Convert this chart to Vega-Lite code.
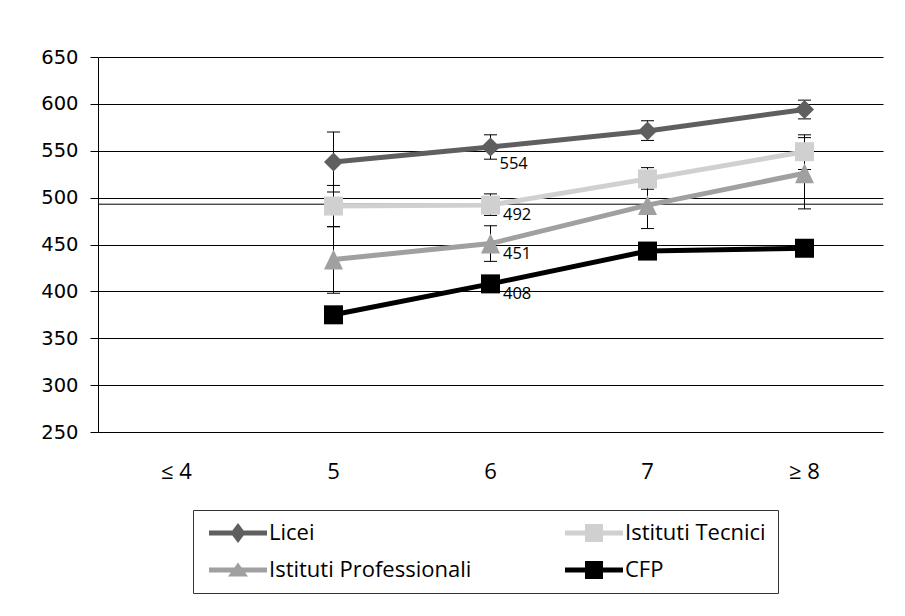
{
  "$schema": "https://vega.github.io/schema/vega-lite/v6.json",
  "width": 785,
  "height": 375,
  "autosize": {"type": "none"},
  "padding": {"left": 98, "top": 57, "right": 22, "bottom": 184},
  "background": "white",
  "config": {"view": {"stroke": null}, "font": "Open Sans"},
  "datasets": {
    "scores": [
      {"cat": "5", "series": "Licei", "value": 538, "lo": 506, "hi": 570},
      {"cat": "6", "series": "Licei", "value": 554, "lo": 541, "hi": 567},
      {"cat": "7", "series": "Licei", "value": 571, "lo": 561, "hi": 582},
      {"cat": "≥ 8", "series": "Licei", "value": 594, "lo": 584, "hi": 604},
      {"cat": "5", "series": "Istituti Tecnici", "value": 491, "lo": 469, "hi": 513},
      {"cat": "6", "series": "Istituti Tecnici", "value": 492, "lo": 481, "hi": 504},
      {"cat": "7", "series": "Istituti Tecnici", "value": 520, "lo": 509, "hi": 532},
      {"cat": "≥ 8", "series": "Istituti Tecnici", "value": 549, "lo": 530, "hi": 567},
      {"cat": "5", "series": "Istituti Professionali", "value": 434, "lo": 398, "hi": 469},
      {"cat": "6", "series": "Istituti Professionali", "value": 451, "lo": 432, "hi": 470},
      {"cat": "7", "series": "Istituti Professionali", "value": 492, "lo": 467, "hi": 517},
      {"cat": "≥ 8", "series": "Istituti Professionali", "value": 526, "lo": 488, "hi": 564},
      {"cat": "5", "series": "CFP", "value": 375, "lo": null, "hi": null},
      {"cat": "6", "series": "CFP", "value": 408, "lo": null, "hi": null},
      {"cat": "7", "series": "CFP", "value": 443, "lo": null, "hi": null},
      {"cat": "≥ 8", "series": "CFP", "value": 446, "lo": null, "hi": null}
    ],
    "ref": [{"value": 493}]
  },
  "encoding": {
    "x": {
      "field": "cat",
      "type": "ordinal",
      "scale": {"domain": ["≤ 4", "5", "6", "7", "≥ 8"], "paddingInner": 0, "paddingOuter": 0},
      "axis": {
        "title": null,
        "domain": false,
        "ticks": false,
        "grid": false,
        "labelAngle": 0,
        "labelPadding": 29,
        "labelFont": "Open Sans",
        "labelFontSize": 22,
        "labelColor": "black"
      }
    },
    "y": {
      "field": "value",
      "type": "quantitative",
      "title": null,
      "scale": {"domain": [250, 650], "nice": false, "zero": false},
      "axis": {
        "title": null,
        "values": [250, 300, 350, 400, 450, 500, 550, 600, 650],
        "grid": true,
        "gridColor": "black",
        "gridWidth": 1,
        "gridOpacity": 1,
        "domainColor": "black",
        "domainWidth": 1,
        "tickColor": "black",
        "tickSize": 8,
        "tickWidth": 1,
        "labelPadding": 12,
        "labelFont": "DejaVu Sans",
        "labelFontSize": 19.5,
        "labelColor": "black"
      }
    }
  },
  "layer": [
    {
      "data": {"name": "ref"},
      "mark": {"type": "rule", "color": "black", "strokeWidth": 1},
      "encoding": {
        "x": {"value": 0},
        "x2": {"value": 785}
      }
    },
    {
      "data": {"name": "scores"},
      "transform": [{"filter": "datum.lo != null"}],
      "mark": {"type": "rule", "color": "black", "strokeWidth": 1},
      "encoding": {
        "y": {"field": "lo", "type": "quantitative", "title": null},
        "y2": {"field": "hi"}
      }
    },
    {
      "data": {"name": "scores"},
      "transform": [{"filter": "datum.lo != null"}],
      "mark": {"type": "tick", "color": "black", "thickness": 1, "size": 13, "opacity": 1},
      "encoding": {
        "y": {"field": "lo", "type": "quantitative", "title": null}
      }
    },
    {
      "data": {"name": "scores"},
      "transform": [{"filter": "datum.hi != null"}],
      "mark": {"type": "tick", "color": "black", "thickness": 1, "size": 13, "opacity": 1},
      "encoding": {
        "y": {"field": "hi", "type": "quantitative", "title": null}
      }
    },
    {
      "data": {"name": "scores"},
      "mark": {"type": "line", "strokeWidth": 5},
      "encoding": {
        "color": {
          "field": "series",
          "type": "nominal",
          "scale": {
            "domain": ["Licei", "Istituti Tecnici", "Istituti Professionali", "CFP"],
            "range": ["#5f5f5f", "#d0d0d0", "#a0a0a0", "#000000"]
          },
          "legend": {
            "title": null,
            "orient": "none",
            "direction": "horizontal",
            "legendX": 95,
            "legendY": 453,
            "columns": 2,
            "padding": 12,
            "rowPadding": 15,
            "columnPadding": 89,
            "strokeColor": "#333333",
            "fillColor": "white",
            "labelFont": "Open Sans",
            "labelFontSize": 22,
            "labelColor": "black",
            "labelOffset": 42,
            "labelLimit": 500,
            "symbolSize": 400,
            "symbolStrokeWidth": 0,
            "encode": {
              "symbols": {
                "update": {
                  "shape": {"signal": "datum.value === 'Licei' ? 'M-0.7,-0.25H5.1V0.25H-0.7Z M2.2,-1L2.95,0L2.2,1L1.45,0Z' : datum.value === 'Istituti Tecnici' ? 'M-0.7,-0.25H5.1V0.25H-0.7Z M1.3,-0.9H3.1V0.9H1.3Z' : datum.value === 'Istituti Professionali' ? 'M-0.7,-0.25H5.1V0.25H-0.7Z M2.2,-0.75L3.2,0.65L1.2,0.65Z' : 'M-0.7,-0.25H5.1V0.25H-0.7Z M1.3,-0.9H3.1V0.9H1.3Z'"},
                  "fill": {"scale": "color", "field": "value"},
                  "stroke": {"value": "transparent"},
                  "strokeWidth": {"value": 0},
                  "size": {"value": 400},
                  "opacity": {"value": 1}
                }
              }
            }
          }
        }
      }
    },
    {
      "data": {"name": "scores"},
      "transform": [{"filter": "datum.series === 'Licei'"}],
      "mark": {"type": "point", "shape": "diamond", "filled": true, "size": 361, "opacity": 1, "strokeWidth": 0, "color": "#5f5f5f"}
    },
    {
      "data": {"name": "scores"},
      "transform": [{"filter": "datum.series === 'Istituti Tecnici'"}],
      "mark": {"type": "point", "shape": "square", "filled": true, "size": 361, "opacity": 1, "strokeWidth": 0, "color": "#d0d0d0"}
    },
    {
      "data": {"name": "scores"},
      "transform": [{"filter": "datum.series === 'Istituti Professionali'"}],
      "mark": {"type": "point", "shape": "M0,-1.05L1,1.05L-1,1.05Z", "filled": true, "size": 361, "opacity": 1, "strokeWidth": 0, "color": "#a0a0a0"}
    },
    {
      "data": {"name": "scores"},
      "transform": [{"filter": "datum.series === 'CFP'"}],
      "mark": {"type": "point", "shape": "square", "filled": true, "size": 361, "opacity": 1, "strokeWidth": 0, "color": "#000000"}
    },
    {
      "data": {"name": "scores"},
      "transform": [{"filter": "datum.cat === '6' && datum.series === 'Licei'"}],
      "mark": {"type": "text", "align": "left", "baseline": "middle", "dx": 9, "dy": 17, "font": "Open Sans", "fontSize": 16.5, "color": "black"},
      "encoding": {"text": {"field": "value", "type": "quantitative"}}
    },
    {
      "data": {"name": "scores"},
      "transform": [{"filter": "datum.cat === '6' && datum.series !== 'Licei'"}],
      "mark": {"type": "text", "align": "left", "baseline": "middle", "dx": 12.5, "dy": 10, "font": "Open Sans", "fontSize": 16.5, "color": "black"},
      "encoding": {"text": {"field": "value", "type": "quantitative"}}
    }
  ]
}
